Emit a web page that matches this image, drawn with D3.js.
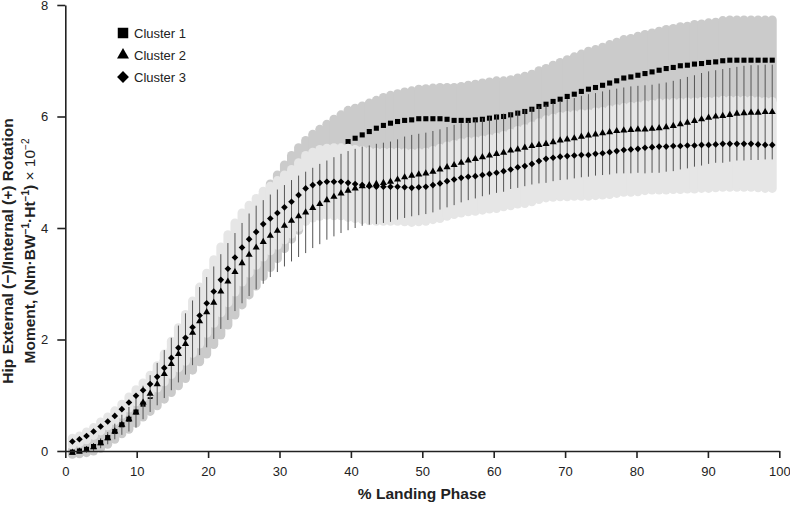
<!DOCTYPE html>
<html lang="en">

<head>
    <meta charset="UTF-8">
    <title>Hip rotation moment by cluster</title>
    <script src="https://cdnjs.cloudflare.com/ajax/libs/d3/7.8.5/d3.min.js"></script>
    <style>
        body {
            margin: 0;
            background: #fff;
        }

        text {
            font-family: "Liberation Sans", Arial, sans-serif;
            fill: #222;
        }
    </style>
</head>

<body>
    <div id="chart"></div>
    <script>
        // cluster means and SDs, one value per sample of the landing phase (100 samples)
        var cluster1 = [
            -0.02, 0.00, 0.03, 0.08, 0.15, 0.24, 0.35, 0.47, 0.57, 0.70,
            0.84, 0.98, 1.12, 1.28, 1.44, 1.60, 1.77, 1.95, 2.13, 2.30,
            2.50, 2.70, 2.90, 3.10, 3.30, 3.50, 3.68, 3.87, 4.04, 4.20,
            4.38, 4.55, 4.70, 4.85, 4.98, 5.10, 5.22, 5.34, 5.45, 5.55,
            5.61, 5.67, 5.73, 5.79, 5.84, 5.88, 5.91, 5.93, 5.94, 5.96,
            5.96, 5.96, 5.96, 5.95, 5.93, 5.93, 5.93, 5.94, 5.95, 5.97,
            5.99, 6.00, 6.03, 6.06, 6.09, 6.13, 6.18, 6.22, 6.27, 6.31,
            6.36, 6.40, 6.45, 6.49, 6.52, 6.56, 6.60, 6.64, 6.69, 6.71,
            6.74, 6.77, 6.80, 6.83, 6.86, 6.88, 6.91, 6.92, 6.94, 6.95,
            6.97, 6.98, 7.00, 7.01, 7.01, 7.01, 7.01, 7.01, 7.01, 7.01
        ];
        var cluster1Sd = [
            0.04, 0.05, 0.06, 0.08, 0.10, 0.12, 0.14, 0.16, 0.18, 0.20,
            0.23, 0.27, 0.31, 0.35, 0.39, 0.43, 0.47, 0.50, 0.53, 0.56,
            0.59, 0.62, 0.64, 0.66, 0.68, 0.70, 0.72, 0.74, 0.75, 0.75,
            0.75, 0.75, 0.74, 0.72, 0.70, 0.67, 0.64, 0.61, 0.58, 0.56,
            0.54, 0.52, 0.51, 0.50, 0.50, 0.50, 0.50, 0.51, 0.52, 0.53,
            0.54, 0.55, 0.56, 0.57, 0.59, 0.61, 0.63, 0.64, 0.65, 0.65,
            0.65, 0.64, 0.63, 0.63, 0.63, 0.63, 0.64, 0.64, 0.65, 0.66,
            0.66, 0.67, 0.67, 0.68, 0.68, 0.68, 0.69, 0.69, 0.69, 0.69,
            0.70, 0.70, 0.70, 0.70, 0.70, 0.70, 0.70, 0.70, 0.71, 0.71,
            0.71, 0.71, 0.72, 0.72, 0.72, 0.72, 0.72, 0.72, 0.72, 0.72
        ];
        var cluster2 = [
            -0.03, -0.01, 0.02, 0.07, 0.14, 0.23, 0.35, 0.47, 0.57, 0.69,
            0.87, 1.03, 1.20, 1.38, 1.56, 1.74, 1.92, 2.12, 2.33, 2.49,
            2.66, 2.86, 3.04, 3.21, 3.37, 3.52, 3.65, 3.75, 3.86, 3.95,
            4.04, 4.13, 4.21, 4.28, 4.36, 4.43, 4.50, 4.56, 4.62, 4.67,
            4.71, 4.75, 4.77, 4.79, 4.81, 4.83, 4.87, 4.91, 4.94, 4.96,
            4.98, 5.01, 5.05, 5.09, 5.13, 5.17, 5.21, 5.24, 5.27, 5.30,
            5.33, 5.35, 5.39, 5.41, 5.44, 5.47, 5.49, 5.51, 5.54, 5.57,
            5.59, 5.61, 5.64, 5.66, 5.68, 5.70, 5.72, 5.74, 5.75, 5.76,
            5.77, 5.77, 5.78, 5.79, 5.81, 5.83, 5.86, 5.89, 5.92, 5.95,
            5.98, 6.00, 6.01, 6.03, 6.05, 6.06, 6.07, 6.07, 6.08, 6.08
        ];
        var cluster2Sd = [
            0.03, 0.04, 0.05, 0.07, 0.09, 0.11, 0.14, 0.18, 0.22, 0.27,
            0.30, 0.33, 0.38, 0.43, 0.47, 0.51, 0.55, 0.58, 0.61, 0.63,
            0.65, 0.67, 0.69, 0.70, 0.72, 0.74, 0.75, 0.75, 0.74, 0.74,
            0.73, 0.73, 0.73, 0.73, 0.72, 0.72, 0.71, 0.71, 0.71, 0.71,
            0.71, 0.71, 0.71, 0.72, 0.72, 0.72, 0.72, 0.73, 0.73, 0.73,
            0.73, 0.73, 0.72, 0.72, 0.72, 0.71, 0.71, 0.71, 0.70, 0.70,
            0.70, 0.70, 0.69, 0.69, 0.69, 0.69, 0.69, 0.70, 0.70, 0.71,
            0.72, 0.72, 0.73, 0.74, 0.74, 0.75, 0.76, 0.76, 0.77, 0.78,
            0.78, 0.79, 0.79, 0.80, 0.80, 0.81, 0.81, 0.82, 0.82, 0.83,
            0.83, 0.83, 0.84, 0.84, 0.84, 0.85, 0.85, 0.85, 0.85, 0.85
        ];
        var cluster3 = [
            0.17, 0.21, 0.27, 0.35, 0.44, 0.53, 0.63, 0.75, 0.87, 0.99,
            1.09, 1.20, 1.33, 1.49, 1.67, 1.85, 2.03, 2.22, 2.43, 2.65,
            2.86, 3.07, 3.27, 3.47, 3.65, 3.80, 3.93, 4.07, 4.17, 4.27,
            4.37, 4.47, 4.59, 4.71, 4.77, 4.81, 4.83, 4.83, 4.83, 4.81,
            4.79, 4.77, 4.75, 4.74, 4.74, 4.74, 4.74, 4.73, 4.72, 4.73,
            4.74, 4.77, 4.80, 4.84, 4.87, 4.90, 4.92, 4.93, 4.95, 4.97,
            4.99, 5.02, 5.05, 5.09, 5.11, 5.15, 5.20, 5.24, 5.26, 5.28,
            5.29, 5.30, 5.31, 5.31, 5.33, 5.34, 5.36, 5.38, 5.40, 5.41,
            5.42, 5.44, 5.45, 5.46, 5.46, 5.47, 5.47, 5.48, 5.48, 5.49,
            5.49, 5.50, 5.51, 5.51, 5.51, 5.51, 5.51, 5.50, 5.49, 5.49
        ];
        var cluster3Sd = [
            0.06, 0.06, 0.07, 0.07, 0.08, 0.08, 0.09, 0.09, 0.10, 0.11,
            0.13, 0.16, 0.20, 0.25, 0.30, 0.36, 0.42, 0.47, 0.51, 0.54,
            0.57, 0.59, 0.61, 0.62, 0.62, 0.61, 0.60, 0.59, 0.58, 0.58,
            0.58, 0.58, 0.58, 0.59, 0.59, 0.60, 0.60, 0.61, 0.61, 0.62,
            0.62, 0.62, 0.62, 0.62, 0.62, 0.62, 0.62, 0.62, 0.62, 0.62,
            0.62, 0.62, 0.63, 0.63, 0.63, 0.63, 0.63, 0.63, 0.63, 0.63,
            0.64, 0.64, 0.65, 0.66, 0.67, 0.68, 0.69, 0.70, 0.71, 0.72,
            0.73, 0.73, 0.74, 0.74, 0.75, 0.75, 0.76, 0.76, 0.76, 0.77,
            0.77, 0.77, 0.77, 0.78, 0.78, 0.78, 0.78, 0.78, 0.78, 0.78,
            0.78, 0.78, 0.78, 0.78, 0.78, 0.78, 0.78, 0.78, 0.78, 0.78
        ];
        var legendLabels = ['Cluster 1', 'Cluster 2', 'Cluster 3'];
        var xTicks = [0, 10, 20, 30, 40, 50, 60, 70, 80, 90, 100];
        var yTicks = [0, 2, 4, 6, 8];

        // 100 samples spread evenly over the phase
        var phase = d3.range(1, 101).map(function (i) { return i * 100 / 101; });

        var width = 790,
            height = 505;

        var x = d3.scaleLinear().domain([0, 100]).range([65.3, 779.3]);
        var y = d3.scaleLinear().domain([0, 8]).range([451, 5]);

        var svg = d3.select('#chart')
            .append('svg')
            .attr('width', width)
            .attr('height', height);

        var rows = function (mean, sd) {
            return mean.map(function (m, i) {
                return { x: phase[i], m: m, sd: sd[i] };
            });
        };

        // SD band drawn as fat round-capped bars, which gives the scalloped edge
        var band = function (data, colour) {
            svg.append('g')
                .selectAll('line')
                .data(data)
                .enter()
                .append('line')
                .attr('x1', function (d) { return x(d.x); })
                .attr('x2', function (d) { return x(d.x); })
                .attr('y1', function (d) { return y(d.m - d.sd); })
                .attr('y2', function (d) { return y(d.m + d.sd); })
                .attr('stroke', colour)
                .attr('stroke-width', 9)
                .attr('stroke-linecap', 'round');
        };

        var marker = function (data, type, size, rotate) {
            svg.append('g')
                .selectAll('path')
                .data(data)
                .enter()
                .append('path')
                .attr('d', d3.symbol().type(type).size(size))
                .attr('transform', function (d) {
                    return 'translate(' + x(d.x) + ',' + y(d.m) + ')' + (rotate ? ' rotate(45)' : '');
                })
                .attr('fill', '#000');
        };

        var c1 = rows(cluster1, cluster1Sd),
            c2 = rows(cluster2, cluster2Sd),
            c3 = rows(cluster3, cluster3Sd);

        band(c1, '#cbcbcb');
        marker(c1, d3.symbolSquare, 26, false);
        band(c3, '#e6e6e6');

        // cluster 2 error bars
        svg.append('g')
            .selectAll('line')
            .data(c2)
            .enter()
            .append('line')
            .attr('x1', function (d) { return x(d.x); })
            .attr('x2', function (d) { return x(d.x); })
            .attr('y1', function (d) { return y(d.m - d.sd); })
            .attr('y2', function (d) { return y(d.m + d.sd); })
            .attr('stroke', '#555')
            .attr('stroke-width', 1);

        marker(c2, d3.symbolTriangle, 22, false);
        marker(c3, d3.symbolSquare, 22, true);

        // axes
        var yAxis = svg.append('g')
            .attr('transform', 'translate(65.3,0)')
            .call(d3.axisLeft(y).tickValues(yTicks).tickSize(8).tickSizeOuter(0).tickPadding(9));

        var xAxis = svg.append('g')
            .attr('transform', 'translate(0,451)')
            .call(d3.axisBottom(x).tickValues(xTicks).tickSize(7).tickSizeOuter(0).tickPadding(9));

        [yAxis, xAxis].forEach(function (a) {
            a.selectAll('path, line').attr('stroke', '#222').attr('stroke-width', 1.6);
            a.selectAll('text').style('font-size', '13px').attr('fill', '#222');
        });

        svg.append('text')
            .attr('x', 422)
            .attr('y', 499)
            .attr('text-anchor', 'middle')
            .style('font-size', '15.5px')
            .style('font-weight', 'bold')
            .text('% Landing Phase');

        var yTitle = svg.append('g')
            .attr('transform', 'translate(0,251) rotate(-90)');

        yTitle.append('text')
            .attr('y', 13)
            .attr('text-anchor', 'middle')
            .style('font-size', '15.5px')
            .style('font-weight', 'bold')
            .text('Hip External (\u2212)/Internal (+) Rotation');

        var line2 = yTitle.append('text')
            .attr('y', 35)
            .attr('text-anchor', 'middle')
            .style('font-size', '15.5px')
            .style('font-weight', 'bold');

        // each piece: [text, superscript?, normal weight?]
        var line2Parts = [
            ['Moment, (Nm\u00b7BW', false, false],
            ['\u22121', true, false],
            ['\u00b7Ht', false, false],
            ['\u22121', true, false],
            [')', false, false],
            [' \u00d7 10', false, true],
            ['\u22122', true, true]
        ];
        var shift = 0;
        line2Parts.forEach(function (p) {
            var target = p[1] ? -6 : 0;
            line2.append('tspan')
                .attr('dy', target - shift)
                .style('font-size', p[1] ? '10px' : null)
                .style('font-weight', p[2] ? 'normal' : null)
                .text(p[0]);
            shift = target;
        });

        // legend
        var legendShapes = [
            { type: d3.symbolSquare, size: 110, rotate: false },
            { type: d3.symbolTriangle, size: 62, rotate: false },
            { type: d3.symbolSquare, size: 70, rotate: true }
        ];

        var legend = svg.append('g')
            .selectAll('g')
            .data(legendLabels)
            .enter()
            .append('g')
            .attr('transform', function (d, i) {
                return 'translate(123,' + (33 + i * 22) + ')';
            });

        legend.append('path')
            .attr('d', function (d, i) {
                return d3.symbol().type(legendShapes[i].type).size(legendShapes[i].size)();
            })
            .attr('transform', function (d, i) {
                return legendShapes[i].rotate ? 'rotate(45)' : null;
            })
            .attr('fill', '#000');

        legend.append('text')
            .attr('x', 11)
            .attr('y', 4.5)
            .style('font-size', '13px')
            .text(function (d) { return d; });
    </script>
</body>

</html>
